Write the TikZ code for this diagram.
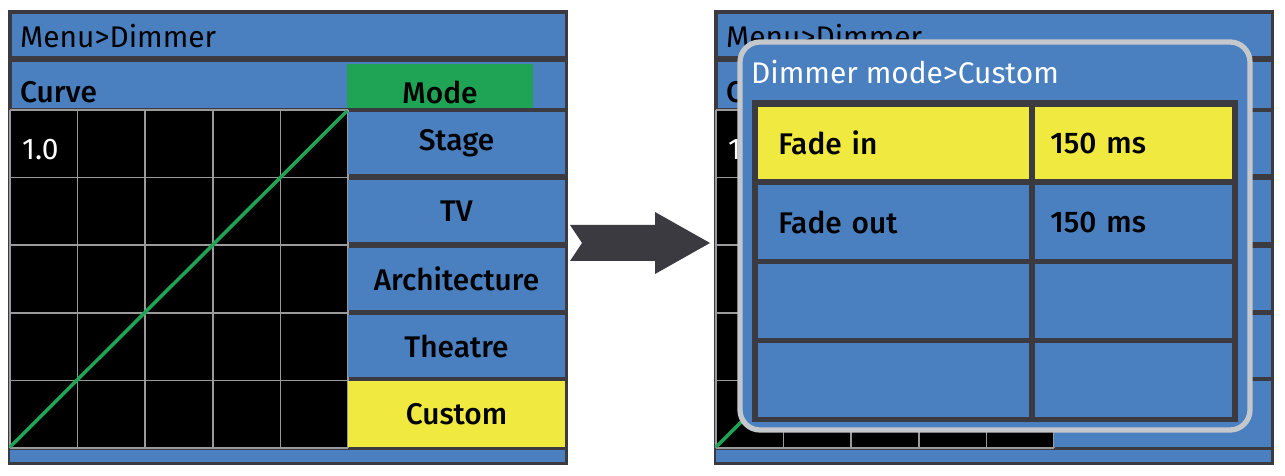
\documentclass[tikz,border=0pt]{standalone}
\usepackage{fontspec}
\setmainfont{Fira Sans}[BoldFont={Fira Sans Medium}]
\usetikzlibrary{positioning}
\definecolor{panelblue}{HTML}{4A80C0}
\definecolor{framegray}{HTML}{3A3A40}
\definecolor{gridgray}{HTML}{9A9A9A}
\definecolor{modegreen}{HTML}{1FA455}
\definecolor{pickyellow}{HTML}{F0EA40}
\definecolor{popgray}{HTML}{C4C8CC}
\newcommand{\dimmerscreen}[2]{%
  \begin{scope}[shift={(#1,0)}]
    \draw[fill=framegray, draw=none] (8,10) rectangle (568,465);
    \node[bar_style, minimum height=0.84cm] (title#1) at (288.5,35) {};
    \node[anchor=west, font=\fontsize{17}{17}\selectfont] at (14,36) {Menu>Dimmer};
    \node[bar_style, minimum height=0.92cm] (curve#1) at (288.5,85) {};
    \node[anchor=west, label_style] at (14,92) {Curve};
    \fill[black] (10,110) rectangle (348,448);
    \foreach \i in {0,...,5} {
      \draw[gridgray, line width=1pt] (10+\i*67.6,110) -- (10+\i*67.6,448);
      \draw[gridgray, line width=1pt] (10,110+\i*67.6) -- (348,110+\i*67.6);
    }
    \node[anchor=west, text=white, font=\fontsize{17}{17}\selectfont] at (16,150) {1.0};
    \node[fill=modegreen, minimum width=3.72cm, minimum height=0.88cm, label_style] (mode#1) at (440,86) {};
    \node[label_style] at (440,92) {Mode};
    \node[button_style] (stage#1) at (456.5,143) {Stage};
    \node[button_style] (tv#1) at (456.5,211) {TV};
    \node[button_style] (arch#1) at (456.5,279) {Architecture};
    \node[button_style] (theatre#1) at (456.5,346) {Theatre};
    \node[button_style, fill=#2, minimum height=1.32cm] (custom#1) at (456.5,414) {Custom};
    \fill[panelblue] (10,450) rectangle (565,462);
    \draw[modegreen, line width=2pt] (10,447) -- (347,111);
  \end{scope}}
\begin{document}
\begin{tikzpicture}[x=0.02cm, y=-0.02cm,
   bar_style/.style={fill=panelblue, minimum width=11.06cm, inner sep=0pt},
   label_style/.style={font=\bfseries\fontsize{17}{17}\selectfont},
   button_style/.style={fill=panelblue, minimum width=4.33cm, minimum height=1.24cm, inner sep=0pt, label_style},
   cell_style/.style={fill=panelblue, minimum height=1.48cm, inner sep=0pt, label_style, anchor=west, text width=#1, align=left},
   cell_style/.default=5.1cm]
    \useasboundingbox (0,0) rectangle (1285,476);

    % screen before
    \dimmerscreen{0}{pickyellow}

    % arrow
    \node[coordinate] (a1) at (570,243) {};
    \node[coordinate] (a2) at (710,243) {};
    \fill[framegray] (a1) ++(0,-18) -- ++(85,0) -- ++(0,-13) -- (a2) -- ++(-55,31) -- ++(0,-13) -- ++(-85,0) -- ++(12,-18) -- cycle;

    % screen after
    \dimmerscreen{706}{panelblue}

    % popup
    \draw[fill=panelblue, draw=popgray, line width=3pt, rounded corners=0.4cm] (740,42) rectangle (1250,430);
    \node[anchor=west, text=white, font=\fontsize{17}{17}\selectfont] (poptitle) at (745,72) {Dimmer mode>Custom};
    \fill[framegray] (752,100) rectangle (1238,422);
    \node[cell_style=4.62cm, fill=pickyellow, inner xsep=0.4cm, minimum height=1.46cm] (fadein) at (758,143) {Fade in};
    \node[cell_style=3.34cm, fill=pickyellow, inner xsep=0.3cm, minimum height=1.46cm] (fadeinval) at (1035,143) {150 ms};
    \node[cell_style=4.62cm, inner xsep=0.4cm] (fadeout) at (758,222) {Fade out};
    \node[cell_style=3.34cm, inner xsep=0.3cm] (fadeoutval) at (1035,222) {150 ms};
    \node[cell_style=5.42cm] (empty1) at (758,301) {};
    \node[cell_style=3.94cm] (empty2) at (1035,301) {};
    \node[cell_style=5.42cm] (empty3) at (758,380) {};
    \node[cell_style=3.94cm] (empty4) at (1035,380) {};
\end{tikzpicture}
\end{document}
